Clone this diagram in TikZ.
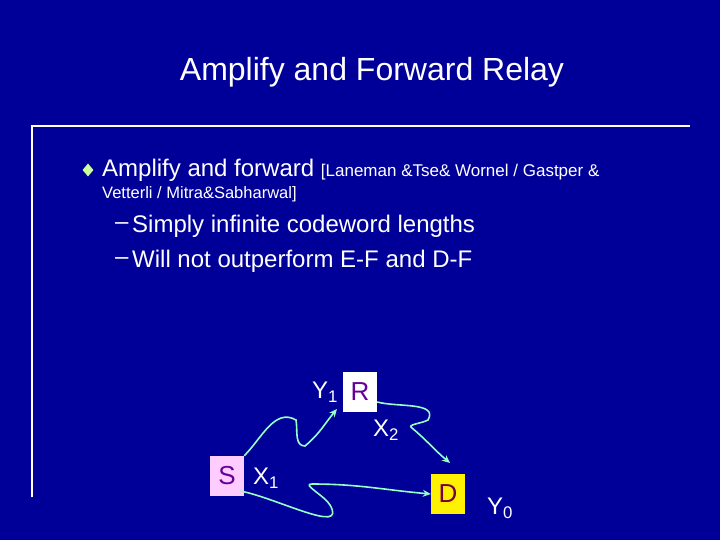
\documentclass[tikz,border=0pt]{standalone}
\usepackage{fontspec}
\setmainfont{Liberation Sans}
\usetikzlibrary{arrows.meta,shapes.geometric}
\definecolor{bg}{RGB}{0,0,153}
\definecolor{arr}{RGB}{150,255,200}
\definecolor{bul}{RGB}{204,255,153}
\definecolor{spink}{RGB}{255,204,255}
\definecolor{ptxt}{RGB}{102,0,153}
\tikzset{
 txt/.style={text=white,anchor=west,inner sep=0pt},
 big/.style={font=\fontsize{24}{24}\selectfont},
 box/.style={minimum width=34pt,minimum height=40pt,inner sep=0pt,font=\fontsize{26}{26}\selectfont},
 wave/.style={draw=arr,line width=1.6pt,-{Stealth[length=8pt,width=7pt]}}
}
\begin{document}
\begin{tikzpicture}[x=1pt,y=-1pt]
\fill[bg] (0,0) rectangle (720,540);
\useasboundingbox (0,0) rectangle (720,540);
\node[text=white,font=\fontsize{32}{32}\selectfont] (title) at (372,72) {Amplify and Forward Relay};
\draw[white,line width=1.5pt] (32,497) -- (32,126) -- (690,126);
\node[fill=bul,diamond,inner sep=0pt,minimum width=11pt,minimum height=13pt] (b) at (88,170) {};
\node[txt,big] (l1) at (102,170) {Amplify and forward {\fontsize{17}{17}\selectfont[Laneman \&Tse\& Wornel / Gastper \&}};
\node[txt,font=\fontsize{16.5}{16.5}\selectfont] (l2) at (102,194) {Vetterli / Mitra\&Sabharwal]};
\node[txt,big] (d1) at (115,226) {–};
\node[txt,big] (s1) at (132,226) {Simply infinite codeword lengths};
\node[txt,big] (d2) at (115,261) {–};
\node[txt,big] (s2) at (132,261) {Will not outperform E-F and D-F};
\node[box,fill=spink,text=ptxt] (S) at (227,476) {S};
\node[box,fill=white,text=ptxt] (R) at (360,392) {R};
\node[box,fill=yellow,text={rgb,255:red,120;green,0;blue,60}] (D) at (448,494) {D};
\node[txt,big] (Y1) at (312,392) {Y\textsubscript{1}};
\node[txt,big] (X2) at (373,430) {X\textsubscript{2}};
\node[txt,big] (X1) at (253,478) {X\textsubscript{1}};
\node[txt,big] (Y0) at (487,508) {Y\textsubscript{0}};
\coordinate (e1) at (337,409);
\coordinate (e2) at (450,463);
\coordinate (s3) at (240,491);
\draw[wave] (S.north east) to[out=45,in=150] (296,420) to[out=-80,in=180] (305,446) to[out=40,in=-130] (e1);
\draw[wave] (R.east |- 0,402) to[out=-15,in=60] (428,420) to[out=-150,in=150] (412,428) to[out=-40,in=140] (e2);
\draw[wave] (s3) to[out=-10,in=-60] (330,505) to[out=120,in=180] (312,484) to[out=0,in=175] (D.west);
\end{tikzpicture}
\end{document}
